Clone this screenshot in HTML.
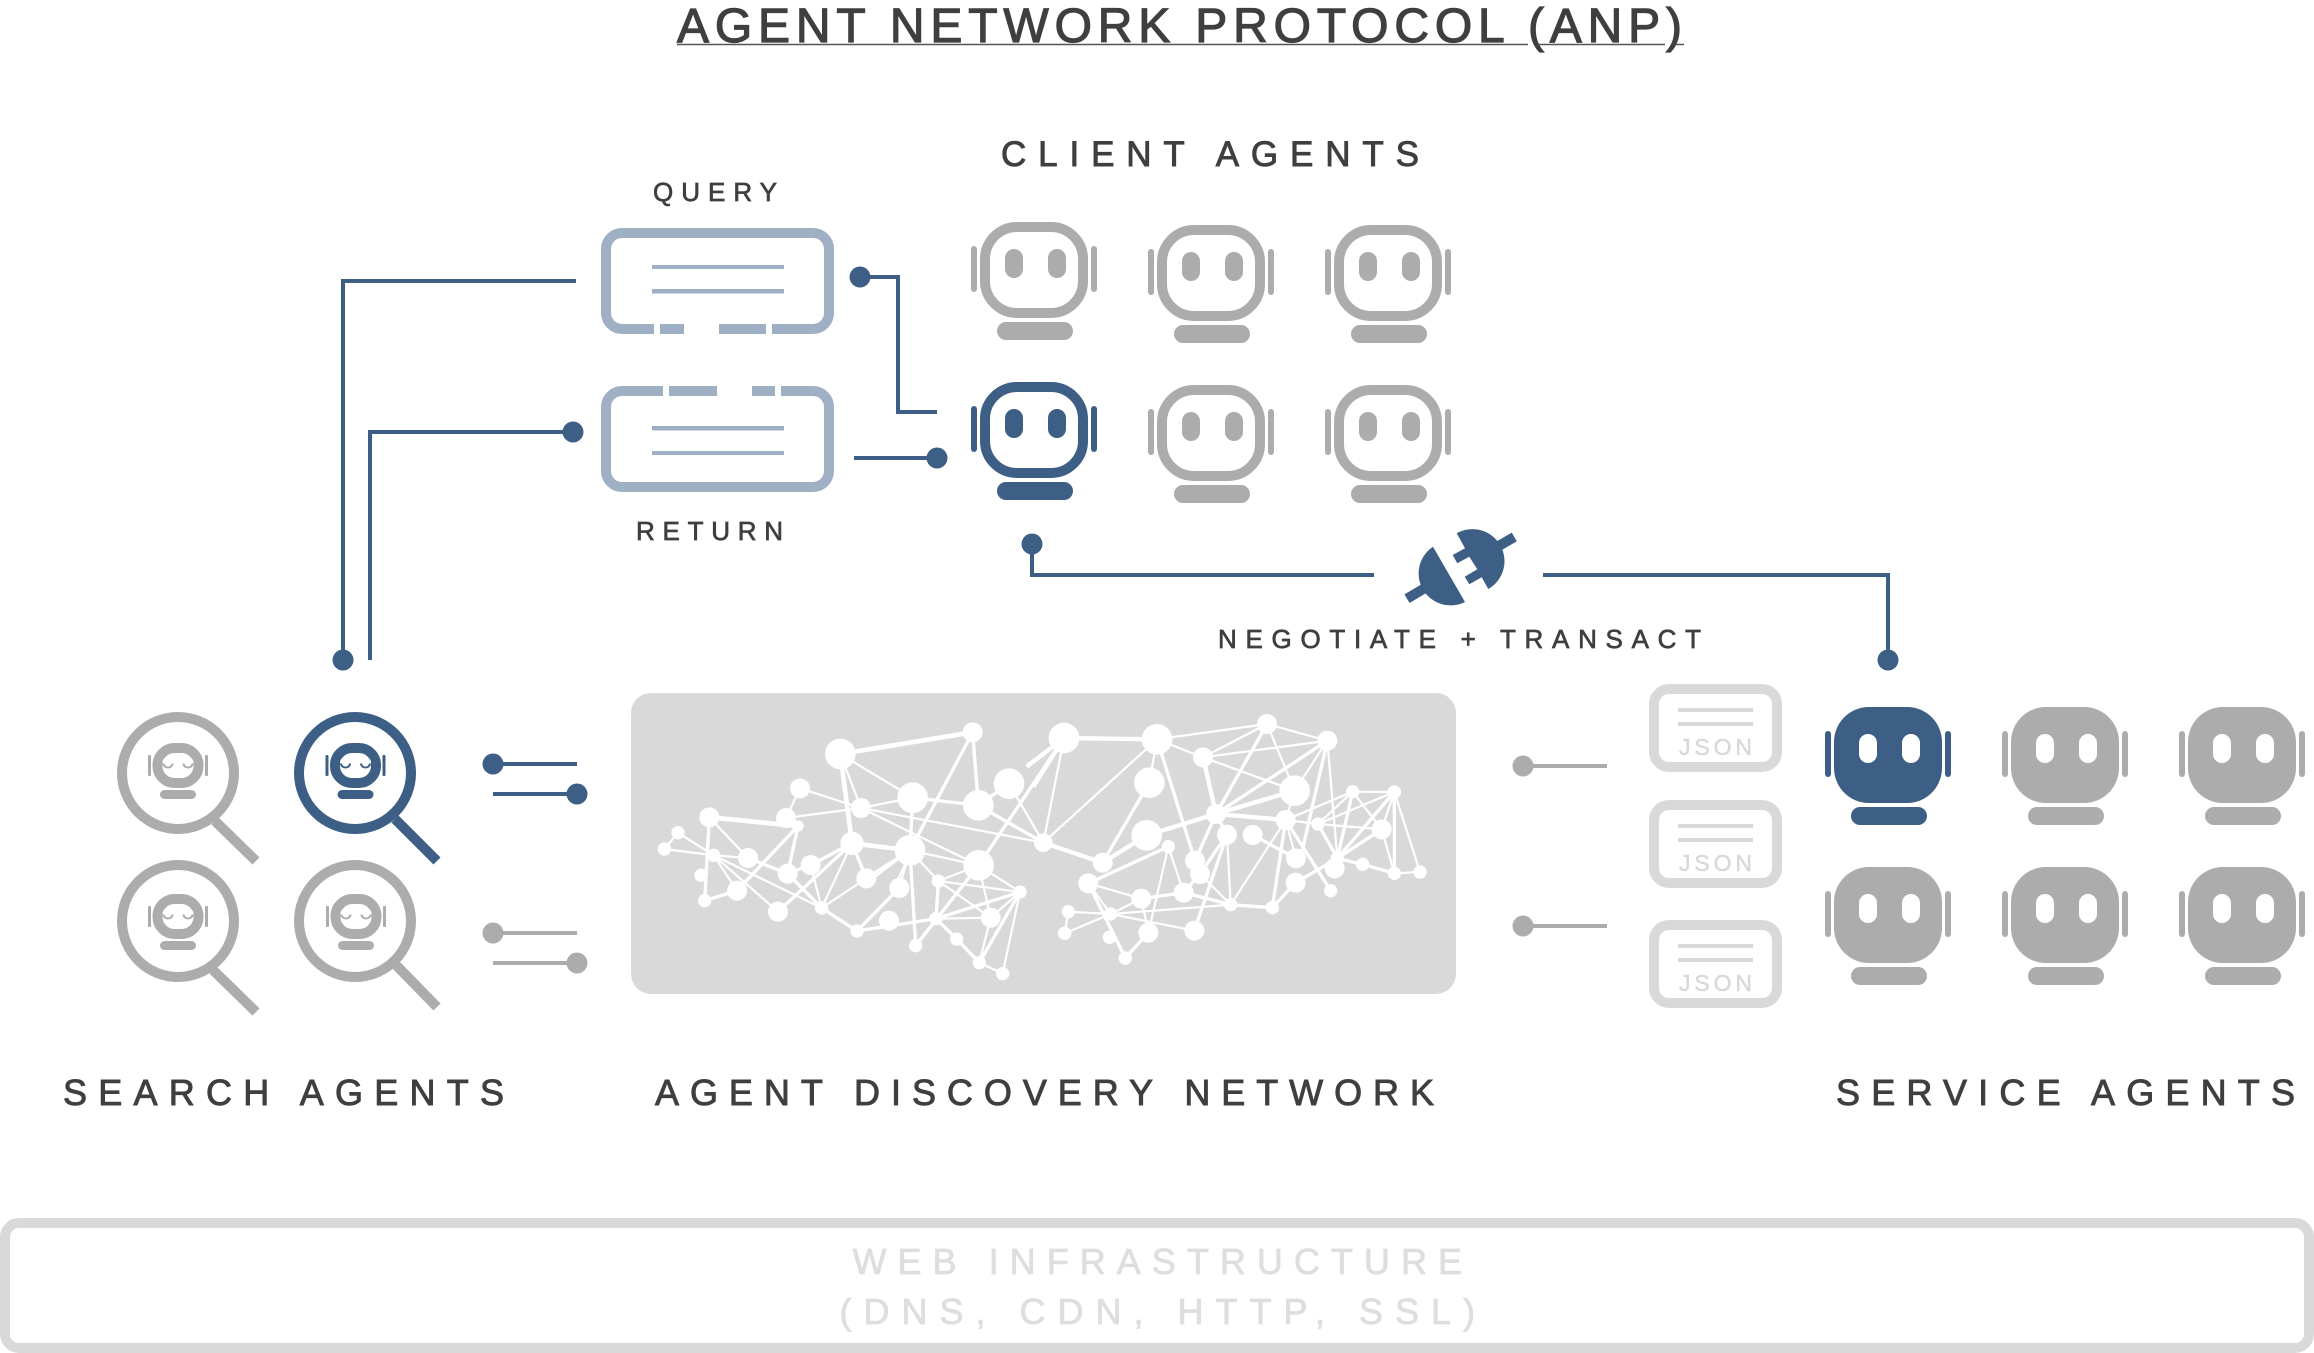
<!DOCTYPE html>
<html>
<head>
<meta charset="utf-8">
<style>
html,body{margin:0;padding:0;background:#fff;}
svg{display:block;}
text{font-family:"Liberation Sans",sans-serif;fill:#3f3f3f;}
</style>
</head>
<body>
<svg width="2314" height="1353" viewBox="0 0 2314 1353" xmlns="http://www.w3.org/2000/svg">
<defs>
<g id="ro">
<rect x="-49" y="5" width="98" height="86" rx="32" fill="none" stroke="currentColor" stroke-width="10"/>
<rect x="-63" y="24" width="6" height="46" rx="3" fill="currentColor"/>
<rect x="57" y="24" width="6" height="46" rx="3" fill="currentColor"/>
<rect x="-37" y="100" width="76" height="18" rx="9" fill="currentColor"/>
<rect x="-29" y="27" width="18" height="29" rx="9" fill="currentColor"/>
<rect x="14" y="27" width="18" height="29" rx="9" fill="currentColor"/>
</g>
<g id="rs">
<rect x="-54" y="0" width="108" height="96" rx="35" fill="currentColor"/>
<rect x="-63" y="24" width="6" height="46" rx="3" fill="currentColor"/>
<rect x="57" y="24" width="6" height="46" rx="3" fill="currentColor"/>
<rect x="-37" y="100" width="76" height="18" rx="9" fill="currentColor"/>
<rect x="-29" y="27" width="18" height="29" rx="9" fill="#fff"/>
<rect x="14" y="27" width="18" height="29" rx="9" fill="#fff"/>
</g>
<g id="mini">
<rect x="-20.500" y="-17.500" width="41" height="35" rx="17" fill="none" stroke="currentColor" stroke-width="10"/>
<rect x="-30" y="-10.500" width="3" height="21" rx="1" fill="currentColor"/>
<rect x="27" y="-10.500" width="3" height="21" rx="1" fill="currentColor"/>
<rect x="-18" y="24.500" width="36" height="9" rx="4.500" fill="currentColor"/>
<circle cx="-10" cy="-3" r="5.500" fill="#fff"/>
<circle cx="10" cy="-3" r="5.500" fill="#fff"/>
<path d="M-14.500 -2a4.500 4 0 0 0 9 0M5.500 -2a4.500 4 0 0 0 9 0" fill="none" stroke="currentColor" stroke-width="2"/>
</g>
</defs>

<!-- Title -->
<text x="677" y="42" font-size="48" textLength="1005" lengthAdjust="spacing" stroke="#3f3f3f" stroke-width="1.200">AGENT NETWORK PROTOCOL (ANP)</text>
<path d="M677 44.500H1528M1538 44.500H1665M1675 44.500H1684" stroke="#555" stroke-width="1.500" fill="none"/>

<!-- Labels -->
<text x="1001" y="166" font-size="35" textLength="418" lengthAdjust="spacing" stroke="#3f3f3f" stroke-width=".9">CLIENT AGENTS</text>
<text x="653" y="201" font-size="26" textLength="124" lengthAdjust="spacing" stroke="#3f3f3f" stroke-width=".7">QUERY</text>
<text x="636" y="540" font-size="26" textLength="147" lengthAdjust="spacing" stroke="#3f3f3f" stroke-width=".7">RETURN</text>
<text x="1218" y="648" font-size="26" textLength="483" lengthAdjust="spacing" stroke="#3f3f3f" stroke-width=".7">NEGOTIATE + TRANSACT</text>
<text x="63" y="1105" font-size="36" textLength="441" lengthAdjust="spacing" stroke="#3f3f3f" stroke-width=".9">SEARCH AGENTS</text>
<text x="655" y="1105" font-size="36" textLength="779" lengthAdjust="spacing" stroke="#3f3f3f" stroke-width=".9">AGENT DISCOVERY NETWORK</text>
<text x="1836" y="1105" font-size="36" textLength="459" lengthAdjust="spacing" stroke="#3f3f3f" stroke-width=".9">SERVICE AGENTS</text>

<!-- Query / Return boxes -->
<g fill="none" stroke="#9fb0c4" stroke-width="10">
<rect x="606" y="233" width="223" height="96" rx="16"/>
<rect x="606" y="391" width="223" height="96" rx="16"/>
</g>
<g fill="#fff">
<rect x="654" y="322" width="6" height="14"/><rect x="684" y="322" width="35" height="14"/><rect x="766" y="322" width="6" height="14"/>
<rect x="663" y="384" width="6" height="14"/><rect x="717" y="384" width="35" height="14"/><rect x="775" y="384" width="6" height="14"/>
</g>
<g fill="#9fb0c4">
<rect x="652" y="265" width="132" height="4"/><rect x="652" y="289" width="132" height="4.500"/>
<rect x="652" y="426" width="132" height="4.500"/><rect x="652" y="451" width="132" height="4"/>
</g>

<!-- Blue connectors -->
<g fill="none" stroke="#3e5f85" stroke-width="4">
<path d="M860 277H898V412H937"/>
<path d="M854 458H937"/>
<path d="M576 281H343V660"/>
<path d="M573 432H370V660"/>
<path d="M1032 544V575H1374"/>
<path d="M1543 575H1888V660"/>
<path d="M493 764H577"/>
<path d="M493 794H577"/>
</g>
<g fill="#3e5f85">
<circle cx="860" cy="277" r="10.500"/>
<circle cx="937" cy="458" r="10.500"/>
<circle cx="573" cy="432" r="10.500"/>
<circle cx="343" cy="660" r="10.500"/>
<circle cx="1032" cy="544" r="10.500"/>
<circle cx="1888" cy="660" r="10.500"/>
<circle cx="493" cy="764" r="10.500"/>
<circle cx="577" cy="794" r="10.500"/>
</g>
<g fill="none" stroke="#acacac" stroke-width="4">
<path d="M493 933H577M493 963H577M1523 766H1607M1523 926H1607"/>
</g>
<g fill="#acacac">
<circle cx="493" cy="933" r="10.500"/><circle cx="577" cy="963" r="10.500"/>
<circle cx="1523" cy="766" r="10.500"/><circle cx="1523" cy="926" r="10.500"/>
</g>

<!-- Plug -->
<g fill="#3e5f85">
<path d="M1433 546.700L1465 602A32 32 0 0 1 1433 546.700Z"/>
<path d="M1456.700 533.300A32 32 0 0 1 1488.300 589L1481.700 577.300L1469.300 584.300L1464.700 576.700L1477.300 569.300L1469.300 556.700L1457.300 563.300L1452.700 555L1465 548.300Z"/>
</g>
<path d="M1430 585L1407 598.700M1490 551L1514.300 537" stroke="#3e5f85" stroke-width="10" fill="none"/>

<!-- Client agents -->
<g color="#acacac">
<use href="#ro" x="1034" y="222"/>
<use href="#ro" x="1211" y="225"/>
<use href="#ro" x="1388" y="225"/>
<use href="#ro" x="1211" y="385"/>
<use href="#ro" x="1388" y="385"/>
</g>
<use href="#ro" x="1034" y="382" color="#3e5f85"/>

<!-- Service agents -->
<use href="#rs" x="1888" y="707" color="#3e5f85"/>
<g color="#acacac">
<use href="#rs" x="2065" y="707"/>
<use href="#rs" x="2242" y="707"/>
<use href="#rs" x="1888" y="867"/>
<use href="#rs" x="2065" y="867"/>
<use href="#rs" x="2242" y="867"/>
</g>

<!-- JSON boxes -->
<g fill="none" stroke="#d9d9d9" stroke-width="10">
<rect x="1654" y="689" width="123" height="78" rx="15"/>
<rect x="1654" y="805" width="123" height="78" rx="15"/>
<rect x="1654" y="925" width="123" height="78" rx="15"/>
</g>
<g fill="#d9d9d9">
<rect x="1678" y="708" width="75" height="4"/><rect x="1678" y="722" width="75" height="4"/>
<rect x="1678" y="824" width="75" height="4"/><rect x="1678" y="838" width="75" height="4"/>
<rect x="1678" y="944" width="75" height="4"/><rect x="1678" y="958" width="75" height="4"/>
</g>
<g font-size="23">
<text x="1679" y="755" textLength="73" lengthAdjust="spacing" stroke="#d9d9d9" stroke-width=".5" style="fill:#d9d9d9">JSON</text>
<text x="1679" y="871" textLength="73" lengthAdjust="spacing" stroke="#d9d9d9" stroke-width=".5" style="fill:#d9d9d9">JSON</text>
<text x="1679" y="991" textLength="73" lengthAdjust="spacing" stroke="#d9d9d9" stroke-width=".5" style="fill:#d9d9d9">JSON</text>
</g>

<!-- Search agents -->
<g fill="none" stroke-width="10">
<g stroke="#acacac">
<circle cx="178" cy="773" r="56"/>
<path d="M215 821L256 861"/>
<circle cx="178" cy="921" r="56"/>
<path d="M213 970L256 1012"/>
<circle cx="355" cy="921" r="56"/>
<path d="M396 965L437 1007"/>
</g>
<g stroke="#3e5f85">
<circle cx="355" cy="773" r="56"/>
<path d="M395 819L437 861"/>
</g>
</g>
<g color="#acacac">
<use href="#mini" x="178" y="765.500"/>
<use href="#mini" x="178" y="916.500"/>
<use href="#mini" x="356" y="916.500"/>
</g>
<use href="#mini" x="355.500" y="765.500" color="#3e5f85"/>

<!-- Discovery panel -->
<rect x="631" y="693" width="825" height="301" rx="20" fill="#d9d9d9"/>

<!-- Network left part -->
<g transform="translate(620 680) scale(.33333)" fill="#fff" stroke="none">
<path fill="none" stroke="#fff" stroke-width="6.500" d="M661 222L723 384M661 222L878 353M723 384L878 353M723 384L540 325M723 384L498 414M723 384L1270 488M723 384L1076 556M498 414L540 325M268 412L384 534M174 458L133 507M174 458L281 526M133 507L281 526M281 526L384 534M281 526L351 632M281 526L605 684M281 526L474 695M696 490L605 684M739 595L605 684M572 555L605 684M870 511L955 603M1076 556L955 603M955 603L1200 636M955 603L1112 713M1076 556L1200 636M1076 556L1112 713M870 511L1076 556M948 716L1112 713M1200 636L1112 713M1200 636L1148 881M1112 713L1078 848M1078 848L1148 881M1167 311L1270 488M1332 174L1270 488M870 511L739 610M838 624L870 511M820 630L870 520"/>
<path fill="none" stroke="#fff" stroke-width="10" d="M878 353L870 511M1075 376L878 353M1058 157L1075 376M1058 157L870 511M1167 311L1075 376M1075 376L1270 488M1332 174L1076 556M696 490L739 595M870 511L739 595M696 490L474 695M696 490L572 555M572 555L503 581M384 534L503 581M503 581L605 684M534 438L503 581M534 438L351 632M268 412L254 662M351 632L254 662M605 684L711 753M711 753L838 624M711 753L948 716M870 511L887 797M887 797L1076 556M955 603L948 716M948 716L1010 777M1010 777L1078 848M948 716L1200 636M1200 636L1078 848"/>
<path fill="none" stroke="#fff" stroke-width="14" d="M661 222L1058 157M661 222L696 490M268 412L534 438M696 490L870 511"/>
<circle cx="661" cy="222" r="46"/><circle cx="1058" cy="157" r="30"/><circle cx="1167" cy="311" r="46"/><circle cx="1075" cy="376" r="46"/><circle cx="878" cy="353" r="46"/><circle cx="723" cy="384" r="30"/><circle cx="540" cy="325" r="30"/><circle cx="498" cy="414" r="30"/><circle cx="268" cy="412" r="30"/><circle cx="534" cy="438" r="17"/><circle cx="174" cy="458" r="20"/><circle cx="133" cy="507" r="20"/><circle cx="281" cy="526" r="20"/><circle cx="384" cy="534" r="30"/><circle cx="243" cy="586" r="20"/><circle cx="254" cy="662" r="20"/><circle cx="351" cy="632" r="30"/><circle cx="503" cy="581" r="30"/><circle cx="572" cy="555" r="30"/><circle cx="696" cy="490" r="35"/><circle cx="870" cy="511" r="46"/><circle cx="739" cy="595" r="30"/><circle cx="838" cy="624" r="30"/><circle cx="1076" cy="556" r="46"/><circle cx="955" cy="603" r="20"/><circle cx="1200" cy="636" r="20"/><circle cx="474" cy="695" r="30"/><circle cx="605" cy="684" r="20"/><circle cx="711" cy="753" r="20"/><circle cx="807" cy="722" r="30"/><circle cx="948" cy="716" r="20"/><circle cx="1112" cy="713" r="30"/><circle cx="887" cy="797" r="20"/><circle cx="1010" cy="777" r="20"/><circle cx="1078" cy="848" r="20"/><circle cx="1148" cy="881" r="20"/>
</g>

<!-- Network right part -->
<g transform="translate(1040 680) scale(.33333)" fill="#fff" stroke="none">
<path fill="none" stroke="#fff" stroke-width="6.500" d="M10 488L351 178M351 178L681 132M351 178L489 232M489 232L681 132M489 232L862 182M681 132L862 182M681 132L764 332M489 232L764 332M862 182L764 332M764 332L737 420M862 182L892 535M351 178L328 308M328 308L188 548M561 464L572 674M737 420L572 674M737 420L768 535M737 420L834 432M737 420L938 335M834 432L938 335M834 432L1063 336M834 432L1025 448M938 335L1063 336M938 335L1025 448M1063 336L1140 576M1063 336L1025 448M1025 448L1063 580M1063 580L1140 576M385 500L431 638M385 500L325 758M145 610L304 656M145 610L212 702M304 656L212 702M304 656L325 758M212 702L85 695M212 702L74 760M212 702L463 752M212 702L572 674M85 695L74 760M480 582L572 674"/>
<path fill="none" stroke="#fff" stroke-width="10" d="M528 402L465 542M528 402L681 132M528 402L561 464M862 182L528 402M862 182L785 520M328 308L188 548M320 466L188 548M561 464L480 582M561 464L463 752M638 465L768 535M737 420L872 632M737 420L697 683M834 432L892 535M938 335L892 535M1063 336L892 535M1063 336L1063 580M1025 448L892 535M892 535L968 553M968 553L1063 580M892 535L767 608M767 608L697 683M697 683L572 674M572 674L431 638M431 638L304 656M480 582L431 638M385 500L145 610M145 610L256 834M325 758L256 834M351 178L465 542"/>
<path fill="none" stroke="#fff" stroke-width="13" d="M72 174L351 178M10 488L188 548M320 466L528 402M188 548L320 466M489 232L528 402M528 402L764 332M528 402L737 420M72 174L-40 260M72 174L-20 320"/>
<circle cx="72" cy="174" r="46"/><circle cx="351" cy="178" r="46"/><circle cx="489" cy="232" r="30"/><circle cx="681" cy="132" r="30"/><circle cx="862" cy="182" r="30"/><circle cx="328" cy="308" r="46"/><circle cx="764" cy="332" r="46"/><circle cx="938" cy="335" r="20"/><circle cx="1063" cy="336" r="20"/><circle cx="528" cy="402" r="30"/><circle cx="737" cy="420" r="30"/><circle cx="834" cy="432" r="20"/><circle cx="1025" cy="448" r="30"/><circle cx="10" cy="488" r="28"/><circle cx="320" cy="466" r="46"/><circle cx="561" cy="464" r="30"/><circle cx="638" cy="465" r="30"/><circle cx="188" cy="548" r="30"/><circle cx="385" cy="500" r="20"/><circle cx="465" cy="542" r="30"/><circle cx="480" cy="582" r="30"/><circle cx="768" cy="535" r="30"/><circle cx="884" cy="565" r="30"/><circle cx="892" cy="535" r="20"/><circle cx="968" cy="553" r="20"/><circle cx="1063" cy="580" r="20"/><circle cx="1140" cy="576" r="20"/><circle cx="145" cy="610" r="30"/><circle cx="304" cy="656" r="30"/><circle cx="431" cy="638" r="30"/><circle cx="767" cy="608" r="30"/><circle cx="872" cy="632" r="20"/><circle cx="572" cy="674" r="20"/><circle cx="697" cy="683" r="20"/><circle cx="85" cy="695" r="20"/><circle cx="212" cy="702" r="20"/><circle cx="74" cy="760" r="20"/><circle cx="208" cy="772" r="20"/><circle cx="325" cy="758" r="30"/><circle cx="463" cy="752" r="30"/><circle cx="256" cy="834" r="20"/>
</g>

<!-- Web infrastructure -->
<rect x="5" y="1223" width="2304" height="125" rx="14" fill="none" stroke="#d9d9d9" stroke-width="10"/>
<text x="852.500" y="1274" font-size="36" textLength="609.500" lengthAdjust="spacing" stroke="#dedede" stroke-width=".8" style="fill:#dedede">WEB INFRASTRUCTURE</text>
<text x="839.500" y="1324" font-size="36" textLength="635.500" lengthAdjust="spacing" stroke="#dedede" stroke-width=".8" style="fill:#dedede">(DNS, CDN, HTTP, SSL)</text>
</svg>
</body>
</html>
